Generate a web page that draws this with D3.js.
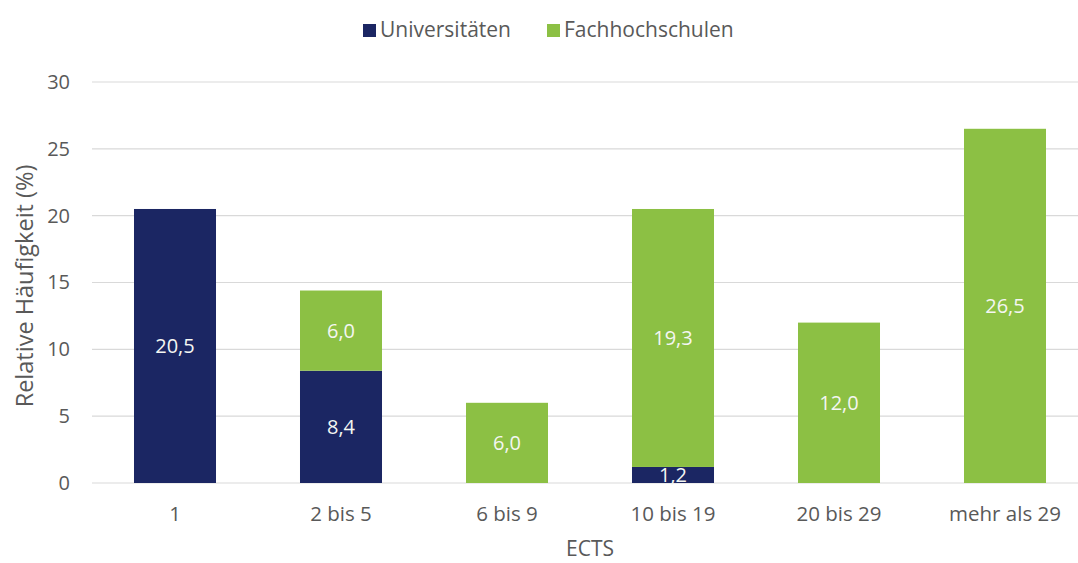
<!DOCTYPE html>
<html>
<head>
<meta charset="utf-8">
<script src="https://cdn.jsdelivr.net/npm/d3@7"></script>
<style>
  body { margin: 0; background: #fff; }
  text { font-family: "Open Sans", "Noto Sans", sans-serif; }
</style>
</head>
<body>
<div id="chart"></div>
<script>
// Chart data
const categories = ['1', '2 bis 5', '6 bis 9', '10 bis 19', '20 bis 29', 'mehr als 29']
const universitaeten = [20.5, 8.4, 0, 1.2, 0, 0]
const fachhochschulen = [0, 6.0, 6.0, 19.3, 12.0, 26.5]
const seriesNames = ['Universitäten', 'Fachhochschulen']
const yTicks = [0, 5, 10, 15, 20, 25, 30]

const colors = ['#1b2663', '#8cc044']
const W = 1078, H = 563

let svg = d3.select('#chart').append('svg')
    .attr('width', W)
    .attr('height', H)

// Scales
let x = d3.scaleBand()
    .domain(categories)
    .range([92, 1088])
    .paddingInner(0.506)
    .paddingOuter(0.253)

let y = d3.scaleLinear()
    .domain([0, 30])
    .range([483, 82])

// Gridlines
svg.append('g')
  .selectAll('line')
  .data(yTicks)
  .join('line')
  .attr('x1', 92)
  .attr('x2', 1078)
  .attr('y1', d => y(d))
  .attr('y2', d => y(d))
  .attr('stroke', '#d9d9d9')
  .attr('stroke-width', 1.2)

// Y axis
let yAxis = d3.axisLeft(y).tickValues(yTicks).tickSize(0).tickPadding(22)
svg.append('g')
  .attr('transform', 'translate(92,0)')
  .call(yAxis)
  .call(g => g.select('.domain').remove())
  .selectAll('text')
  .attr('fill', '#595959')
  .style('font-size', '20px')

// X axis
let xAxis = d3.axisBottom(x).tickSize(0).tickPadding(23)
svg.append('g')
  .attr('transform', 'translate(0,483)')
  .call(xAxis)
  .call(g => g.select('.domain').remove())
  .selectAll('text')
  .attr('fill', '#595959')
  .style('font-size', '20.5px')

// Stack data
let rows = categories.map((c, i) => ({ cat: c, u: universitaeten[i], f: fachhochschulen[i] }))
let stack = d3.stack().keys(['u', 'f'])(rows)

let groups = svg.append('g')
  .selectAll('g')
  .data(stack)
  .join('g')
  .attr('fill', (d, i) => colors[i])

groups.selectAll('rect')
  .data(d => d.filter(p => p[1] - p[0] > 0))
  .join('rect')
  .attr('x', p => x(p.data.cat))
  .attr('width', x.bandwidth())
  .attr('y', p => y(p[1]))
  .attr('height', p => y(p[0]) - y(p[1]))

// Value labels
let fmt = v => v.toFixed(1).replace('.', ',')
groups.selectAll('text')
  .data(d => d.filter(p => p[1] - p[0] > 0))
  .join('text')
  .attr('x', p => x(p.data.cat) + x.bandwidth() / 2)
  .attr('y', p => (y(p[0]) + y(p[1])) / 2)
  .attr('dy', '0.36em')
  .attr('text-anchor', 'middle')
  .attr('fill', '#f4f6f2')
  .style('font-size', '20px')
  .text(p => fmt(p[1] - p[0]))

// Axis titles
svg.append('text')
  .attr('x', 590)
  .attr('y', 556)
  .attr('text-anchor', 'middle')
  .attr('fill', '#595959')
  .style('font-size', '21px')
  .text('ECTS')

svg.append('text')
  .attr('transform', 'translate(33,286) rotate(-90)')
  .attr('text-anchor', 'middle')
  .attr('fill', '#595959')
  .style('font-size', '23.5px')
  .text('Relative Häufigkeit (%)')

// Legend
let legendX = [363, 547]
let legend = svg.append('g')
  .selectAll('g')
  .data(seriesNames)
  .join('g')
  .attr('transform', (d, i) => 'translate(' + legendX[i] + ',37)')

legend.append('rect')
  .attr('x', 0)
  .attr('y', -13)
  .attr('width', 13)
  .attr('height', 13)
  .attr('fill', (d, i) => colors[i])

legend.append('text')
  .attr('x', 17)
  .attr('fill', '#595959')
  .style('font-size', '21px')
  .text(d => d)
</script>
</body>
</html>
